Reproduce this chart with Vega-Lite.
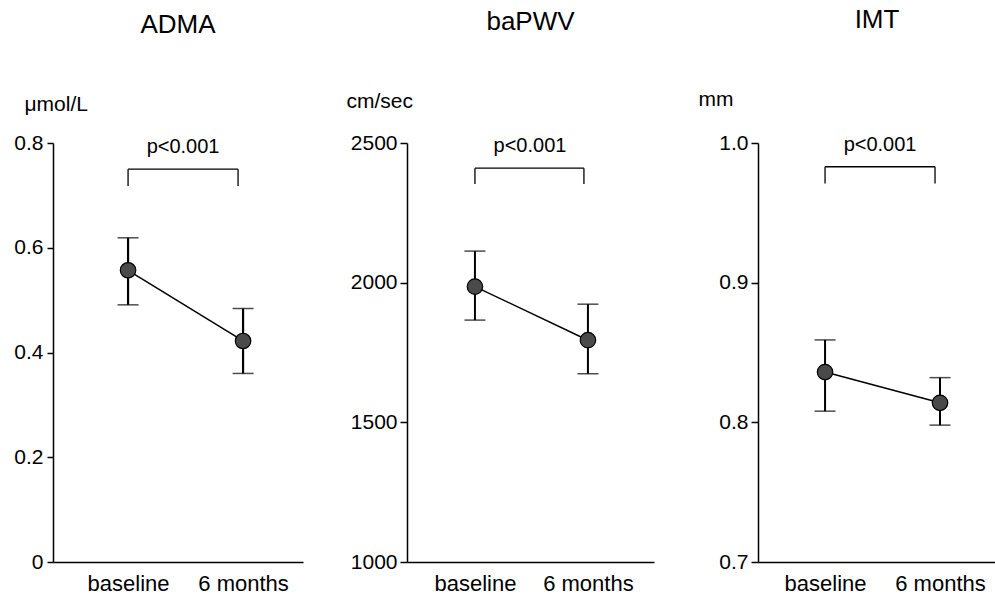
{
  "$schema": "https://vega.github.io/schema/vega-lite/v6.json",
  "background": "white",
  "padding": {"left": 13, "top": 7, "right": 0, "bottom": 0},
  "bounds": "flush",
  "spacing": 104,
  "config": {
    "font": "Liberation Sans",
    "view": {"stroke": null},
    "axis": {"grid": false, "domainColor": "black", "tickColor": "black", "labelColor": "black", "titleColor": "black", "domainWidth": 1.5, "tickWidth": 1.5, "labelFont": "Liberation Sans", "titleFont": "Liberation Sans"},
    "title": {"fontSize": 26, "fontWeight": "normal", "color": "black", "anchor": "middle", "offset": 55}
  },
  "datasets": {
    "vals": [
      {"panel": "ADMA", "time": "baseline", "mean": 0.557, "lo": 0.491, "hi": 0.619},
      {"panel": "ADMA", "time": "6 months", "mean": 0.422, "lo": 0.360, "hi": 0.484},
      {"panel": "baPWV", "time": "baseline", "mean": 1986, "lo": 1866, "hi": 2113},
      {"panel": "baPWV", "time": "6 months", "mean": 1794, "lo": 1674, "hi": 1923},
      {"panel": "IMT", "time": "baseline", "mean": 0.836, "lo": 0.808, "hi": 0.859},
      {"panel": "IMT", "time": "6 months", "mean": 0.814, "lo": 0.798, "hi": 0.832}
    ],
    "brackets": [
      {"panel": "ADMA", "from": "baseline", "to": "6 months", "top": 0.750, "bottom": 0.718, "label": "p<0.001"},
      {"panel": "baPWV", "from": "baseline", "to": "6 months", "top": 2410, "bottom": 2353, "label": "p<0.001"},
      {"panel": "IMT", "from": "baseline", "to": "6 months", "top": 0.983, "bottom": 0.971, "label": "p<0.001"}
    ]
  },
  "hconcat": [
    {
      "title": "ADMA",
      "width": 250,
      "height": 419,
      "layer": [
        {
          "data": {"name": "vals"},
          "transform": [{"filter": "datum.panel === 'ADMA'"}],
          "mark": {"type": "line", "color": "black", "strokeWidth": 1.5},
          "encoding": {
            "x": {"field": "time", "type": "nominal", "scale": {"type": "point", "domain": ["baseline", "6 months"], "padding": 0.587, "align": 0.556}, "axis": {"title": null, "labelAngle": 0, "labelFontSize": 22, "ticks": false, "labelPadding": 11}},
            "y": {"field": "mean", "type": "quantitative", "title": "μmol/L", "scale": {"domain": [0, 0.8], "nice": false}, "axis": {"values": [0, 0.2, 0.4, 0.6, 0.8], "labelExpr": "datum.value === 0 ? '0' : format(datum.value, '.1f')", "labelFontSize": 21, "tickSize": 6, "labelPadding": 4, "titleAngle": 0, "titleAlign": "left", "titleBaseline": "alphabetic", "titleX": -29, "titleY": -33, "titleFontSize": 21, "titleFontWeight": "normal"}}
          }
        },
        {
          "data": {"name": "vals"},
          "transform": [{"filter": "datum.panel === 'ADMA'"}],
          "mark": {"type": "errorbar", "ticks": {"size": 21, "thickness": 1.5, "color": "black"}, "rule": {"strokeWidth": 2.2, "color": "black"}},
          "encoding": {
            "x": {"field": "time", "type": "nominal"},
            "y": {"field": "lo", "type": "quantitative", "title": "μmol/L"},
            "y2": {"field": "hi"}
          }
        },
        {
          "data": {"name": "vals"},
          "transform": [{"filter": "datum.panel === 'ADMA'"}],
          "mark": {"type": "point", "filled": true, "size": 240, "color": "#4a4a4a", "stroke": "black", "strokeWidth": 1.2, "opacity": 1},
          "encoding": {
            "x": {"field": "time", "type": "nominal"},
            "y": {"field": "mean", "type": "quantitative", "title": "μmol/L"}
          }
        },
        {
          "data": {"name": "brackets"},
          "transform": [{"filter": "datum.panel === 'ADMA'"}],
          "mark": {"type": "rule", "color": "black", "strokeWidth": 1.3, "x2Offset": -5},
          "encoding": {
            "x": {"field": "from", "type": "nominal"},
            "x2": {"field": "to"},
            "y": {"field": "top", "type": "quantitative", "title": "μmol/L"}
          }
        },
        {
          "data": {"name": "brackets"},
          "transform": [{"filter": "datum.panel === 'ADMA'"}],
          "mark": {"type": "rule", "color": "black", "strokeWidth": 1.3},
          "encoding": {
            "x": {"field": "from", "type": "nominal"},
            "y": {"field": "top", "type": "quantitative", "title": "μmol/L"},
            "y2": {"field": "bottom"}
          }
        },
        {
          "data": {"name": "brackets"},
          "transform": [{"filter": "datum.panel === 'ADMA'"}],
          "mark": {"type": "rule", "color": "black", "strokeWidth": 1.3, "xOffset": -5},
          "encoding": {
            "x": {"field": "to", "type": "nominal"},
            "y": {"field": "top", "type": "quantitative", "title": "μmol/L"},
            "y2": {"field": "bottom"}
          }
        },
        {
          "data": {"name": "brackets"},
          "transform": [{"filter": "datum.panel === 'ADMA'"}],
          "mark": {"type": "text", "fontSize": 20, "dx": 55, "dy": -16, "align": "center", "baseline": "alphabetic", "color": "black"},
          "encoding": {
            "x": {"field": "from", "type": "nominal"},
            "y": {"field": "top", "type": "quantitative", "title": "μmol/L"},
            "text": {"field": "label"}
          }
        }
      ]
    },
    {
      "title": "baPWV",
      "width": 247,
      "height": 419,
      "layer": [
        {
          "data": {"name": "vals"},
          "transform": [{"filter": "datum.panel === 'baPWV'"}],
          "mark": {"type": "line", "color": "black", "strokeWidth": 1.5},
          "encoding": {
            "x": {"field": "time", "type": "nominal", "scale": {"type": "point", "domain": ["baseline", "6 months"], "padding": 0.593, "align": 0.507}, "axis": {"title": null, "labelAngle": 0, "labelFontSize": 22, "ticks": false, "labelPadding": 11}},
            "y": {"field": "mean", "type": "quantitative", "title": "cm/sec", "scale": {"domain": [1000, 2500], "nice": false, "zero": false}, "axis": {"values": [1000, 1500, 2000, 2500], "format": "d", "labelFontSize": 21, "tickSize": 7, "labelPadding": 3, "titleAngle": 0, "titleAlign": "left", "titleBaseline": "alphabetic", "titleX": -61, "titleY": -36, "titleFontSize": 21, "titleFontWeight": "normal"}}
          }
        },
        {
          "data": {"name": "vals"},
          "transform": [{"filter": "datum.panel === 'baPWV'"}],
          "mark": {"type": "errorbar", "ticks": {"size": 21, "thickness": 1.5, "color": "black"}, "rule": {"strokeWidth": 2, "color": "black"}},
          "encoding": {
            "x": {"field": "time", "type": "nominal"},
            "y": {"field": "lo", "type": "quantitative", "title": "cm/sec"},
            "y2": {"field": "hi"}
          }
        },
        {
          "data": {"name": "vals"},
          "transform": [{"filter": "datum.panel === 'baPWV'"}],
          "mark": {"type": "point", "filled": true, "size": 240, "color": "#4a4a4a", "stroke": "black", "strokeWidth": 1.2, "opacity": 1},
          "encoding": {
            "x": {"field": "time", "type": "nominal"},
            "y": {"field": "mean", "type": "quantitative", "title": "cm/sec"}
          }
        },
        {
          "data": {"name": "brackets"},
          "transform": [{"filter": "datum.panel === 'baPWV'"}],
          "mark": {"type": "rule", "color": "black", "strokeWidth": 1.3, "x2Offset": -4},
          "encoding": {
            "x": {"field": "from", "type": "nominal"},
            "x2": {"field": "to"},
            "y": {"field": "top", "type": "quantitative", "title": "cm/sec"}
          }
        },
        {
          "data": {"name": "brackets"},
          "transform": [{"filter": "datum.panel === 'baPWV'"}],
          "mark": {"type": "rule", "color": "black", "strokeWidth": 1.3},
          "encoding": {
            "x": {"field": "from", "type": "nominal"},
            "y": {"field": "top", "type": "quantitative", "title": "cm/sec"},
            "y2": {"field": "bottom"}
          }
        },
        {
          "data": {"name": "brackets"},
          "transform": [{"filter": "datum.panel === 'baPWV'"}],
          "mark": {"type": "rule", "color": "black", "strokeWidth": 1.3, "xOffset": -4},
          "encoding": {
            "x": {"field": "to", "type": "nominal"},
            "y": {"field": "top", "type": "quantitative", "title": "cm/sec"},
            "y2": {"field": "bottom"}
          }
        },
        {
          "data": {"name": "brackets"},
          "transform": [{"filter": "datum.panel === 'baPWV'"}],
          "mark": {"type": "text", "fontSize": 20, "dx": 55, "dy": -16, "align": "center", "baseline": "alphabetic", "color": "black"},
          "encoding": {
            "x": {"field": "from", "type": "nominal"},
            "y": {"field": "top", "type": "quantitative", "title": "cm/sec"},
            "text": {"field": "label"}
          }
        }
      ]
    },
    {
      "title": "IMT",
      "width": 238,
      "height": 419,
      "layer": [
        {
          "data": {"name": "vals"},
          "transform": [{"filter": "datum.panel === 'IMT'"}],
          "mark": {"type": "line", "color": "black", "strokeWidth": 1.5},
          "encoding": {
            "x": {"field": "time", "type": "nominal", "scale": {"type": "point", "domain": ["baseline", "6 months"], "padding": 0.535, "align": 0.545}, "axis": {"title": null, "labelAngle": 0, "labelFontSize": 22, "ticks": false, "labelPadding": 11}},
            "y": {"field": "mean", "type": "quantitative", "title": "mm", "scale": {"domain": [0.7, 1.0], "nice": false, "zero": false}, "axis": {"values": [0.7, 0.8, 0.9, 1.0], "format": ".1f", "labelFontSize": 21, "tickSize": 7, "labelPadding": 3, "titleAngle": 0, "titleAlign": "left", "titleBaseline": "alphabetic", "titleX": -60, "titleY": -38, "titleFontSize": 21, "titleFontWeight": "normal"}}
          }
        },
        {
          "data": {"name": "vals"},
          "transform": [{"filter": "datum.panel === 'IMT'"}],
          "mark": {"type": "errorbar", "ticks": {"size": 21, "thickness": 1.5, "color": "black"}, "rule": {"strokeWidth": 2, "color": "black"}},
          "encoding": {
            "x": {"field": "time", "type": "nominal"},
            "y": {"field": "lo", "type": "quantitative", "title": "mm"},
            "y2": {"field": "hi"}
          }
        },
        {
          "data": {"name": "vals"},
          "transform": [{"filter": "datum.panel === 'IMT'"}],
          "mark": {"type": "point", "filled": true, "size": 240, "color": "#4a4a4a", "stroke": "black", "strokeWidth": 1.2, "opacity": 1},
          "encoding": {
            "x": {"field": "time", "type": "nominal"},
            "y": {"field": "mean", "type": "quantitative", "title": "mm"}
          }
        },
        {
          "data": {"name": "brackets"},
          "transform": [{"filter": "datum.panel === 'IMT'"}],
          "mark": {"type": "rule", "color": "black", "strokeWidth": 1.3, "x2Offset": -5},
          "encoding": {
            "x": {"field": "from", "type": "nominal"},
            "x2": {"field": "to"},
            "y": {"field": "top", "type": "quantitative", "title": "mm"}
          }
        },
        {
          "data": {"name": "brackets"},
          "transform": [{"filter": "datum.panel === 'IMT'"}],
          "mark": {"type": "rule", "color": "black", "strokeWidth": 1.3},
          "encoding": {
            "x": {"field": "from", "type": "nominal"},
            "y": {"field": "top", "type": "quantitative", "title": "mm"},
            "y2": {"field": "bottom"}
          }
        },
        {
          "data": {"name": "brackets"},
          "transform": [{"filter": "datum.panel === 'IMT'"}],
          "mark": {"type": "rule", "color": "black", "strokeWidth": 1.3, "xOffset": -5},
          "encoding": {
            "x": {"field": "to", "type": "nominal"},
            "y": {"field": "top", "type": "quantitative", "title": "mm"},
            "y2": {"field": "bottom"}
          }
        },
        {
          "data": {"name": "brackets"},
          "transform": [{"filter": "datum.panel === 'IMT'"}],
          "mark": {"type": "text", "fontSize": 20, "dx": 55, "dy": -16, "align": "center", "baseline": "alphabetic", "color": "black"},
          "encoding": {
            "x": {"field": "from", "type": "nominal"},
            "y": {"field": "top", "type": "quantitative", "title": "mm"},
            "text": {"field": "label"}
          }
        }
      ]
    }
  ]
}
